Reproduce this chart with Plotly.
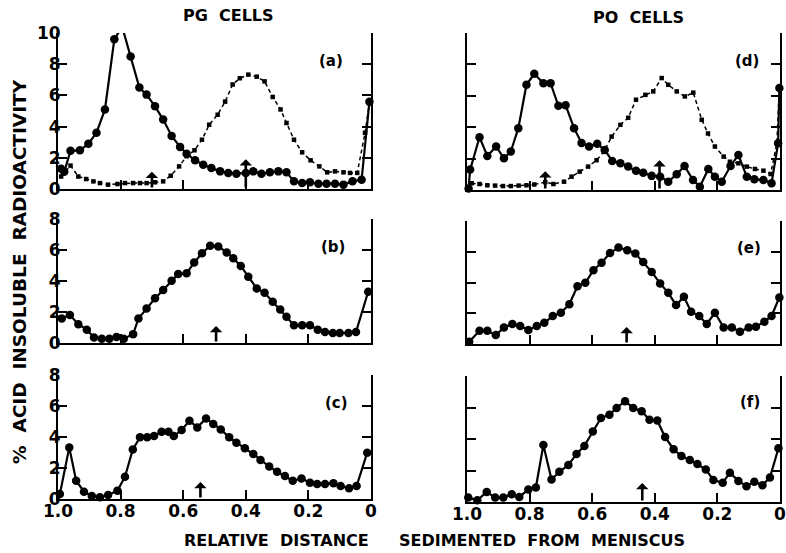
import plotly.graph_objects as go

# ---------------- data ----------------
a_solid_x = [0.99, 0.98, 0.96, 0.93, 0.903, 0.877, 0.85, 0.82, 0.795, 0.768, 0.74, 0.717, 0.69, 0.664,
             0.637, 0.61, 0.589, 0.562, 0.536, 0.51, 0.482, 0.456, 0.43, 0.40, 0.376, 0.35, 0.323, 0.296,
             0.27, 0.246, 0.22, 0.195, 0.168, 0.142, 0.115, 0.088, 0.059, 0.03, 0.005]
a_solid_y = [1.3, 1.1, 2.45, 2.48, 2.9, 3.6, 5.1, 9.6, 10.4, 8.5, 6.5, 6.05, 5.3, 4.45,
             3.4, 2.7, 2.26, 1.84, 1.56, 1.35, 1.13, 1.03, 0.98, 1.03, 1.13, 0.98, 1.07, 1.13,
             1.07, 0.49, 0.38, 0.43, 0.34, 0.34, 0.34, 0.28, 0.49, 0.6, 5.6]
a_dash_x = [0.99, 0.96, 0.935, 0.91, 0.887, 0.866, 0.84, 0.81, 0.786, 0.76, 0.738, 0.717, 0.69, 0.664,
            0.64, 0.613, 0.589, 0.564, 0.54, 0.517, 0.49, 0.466, 0.442, 0.419, 0.392, 0.365, 0.34,
            0.314, 0.289, 0.27, 0.246, 0.22, 0.193, 0.165, 0.14, 0.115, 0.088, 0.067, 0.044, 0.019, 0.005]
a_dash_y = [0.8, 1.5, 0.8, 0.64, 0.49, 0.38, 0.28, 0.32, 0.38, 0.38, 0.38, 0.38, 0.43, 0.49,
            0.85, 1.45, 2.1, 2.48, 3.16, 4.12, 4.76, 5.6, 6.7, 7.1, 7.33, 7.2, 6.9,
            5.9, 5.1, 4.23, 3.16, 2.35, 1.84, 1.45, 1.07, 1.13, 1.07, 1.03, 1.03, 3.6, 5.5]

b_x = [0.988, 0.962, 0.935, 0.908, 0.885, 0.86, 0.836, 0.813, 0.79, 0.76, 0.743, 0.717, 0.69, 0.664,
       0.637, 0.616, 0.589, 0.565, 0.54, 0.514, 0.488, 0.461, 0.44, 0.416, 0.392, 0.365, 0.34, 0.314,
       0.29, 0.27, 0.246, 0.22, 0.195, 0.17, 0.147, 0.122, 0.1, 0.072, 0.048, 0.009]
b_y = [1.58, 1.8, 1.21, 0.86, 0.35, 0.28, 0.28, 0.39, 0.28, 0.56, 1.58, 2.23, 2.88, 3.42,
       4.02, 4.45, 4.5, 5.19, 5.79, 6.27, 6.23, 5.84, 5.47, 4.97, 4.28, 3.52, 3.24, 2.66,
       2.16, 1.69, 1.15, 1.15, 1.15, 0.86, 0.71, 0.65, 0.65, 0.65, 0.71, 3.31]

c_x = [0.994, 0.964, 0.942, 0.917, 0.892, 0.866, 0.84, 0.81, 0.786, 0.761, 0.738, 0.715, 0.693, 0.669,
       0.647, 0.63, 0.605, 0.58, 0.555, 0.527, 0.504, 0.48, 0.453, 0.43, 0.403, 0.376, 0.353, 0.325,
       0.3, 0.275, 0.25, 0.222, 0.195, 0.172, 0.147, 0.12, 0.097, 0.07, 0.046, 0.012]
c_y = [0.32, 3.33, 1.18, 0.47, 0.19, 0.11, 0.26, 0.54, 1.44, 3.2, 3.98, 3.98, 4.06, 4.34,
       4.34, 4.06, 4.45, 5.05, 4.62, 5.2, 4.84, 4.49, 3.98, 3.63, 3.27, 2.9, 2.52, 2.09,
       1.76, 1.48, 1.18, 1.33, 1.05, 0.97, 0.97, 1.01, 0.84, 0.69, 0.84, 2.99]

d_solid_x = [0.995, 0.99, 0.96, 0.935, 0.907, 0.882, 0.86, 0.836, 0.81, 0.785, 0.756, 0.733, 0.708,
             0.685, 0.658, 0.634, 0.61, 0.584, 0.56, 0.536, 0.51, 0.485, 0.46, 0.437, 0.41, 0.383,
             0.357, 0.33, 0.305, 0.278, 0.256, 0.229, 0.208, 0.186, 0.158, 0.133, 0.106, 0.082,
             0.053, 0.027, 0.006, 0.002]
d_solid_y = [0.1, 1.3, 3.36, 2.17, 2.77, 2.02, 2.45, 3.94, 6.7, 7.4, 6.8, 6.8, 5.36,
             5.4, 3.94, 3.0, 2.77, 2.94, 2.55, 1.85, 1.7, 1.49, 1.23, 1.1, 0.9, 0.85,
             0.53, 1.0, 1.53, 0.64, 0.21, 1.34, 0.85, 0.53, 1.53, 2.23, 0.85, 0.68,
             0.64, 0.43, 2.98, 6.5]
d_dash_x = [0.985, 0.96, 0.935, 0.91, 0.885, 0.86, 0.835, 0.81, 0.785, 0.75, 0.724, 0.69, 0.666,
            0.64, 0.613, 0.586, 0.562, 0.538, 0.51, 0.485, 0.46, 0.43, 0.405, 0.378, 0.357, 0.33,
            0.304, 0.277, 0.25, 0.23, 0.208, 0.18, 0.16, 0.133, 0.106, 0.08, 0.053, 0.03, 0.01, 0.002]
d_dash_y = [0.43, 0.38, 0.3, 0.28, 0.25, 0.25, 0.28, 0.3, 0.35, 0.5, 0.38, 0.53, 0.85,
            1.17, 1.49, 1.9, 2.45, 3.4, 4.15, 4.6, 5.75, 6.06, 6.28, 7.13, 6.7, 6.28,
            5.96, 6.2, 4.47, 3.6, 2.77, 2.13, 1.8, 1.7, 1.49, 1.34, 1.23, 1.02, 2.98, 6.5]

e_x = [0.993, 0.96, 0.935, 0.908, 0.882, 0.855, 0.83, 0.804, 0.777, 0.753, 0.726, 0.7, 0.673,
       0.647, 0.622, 0.596, 0.57, 0.543, 0.516, 0.488, 0.462, 0.437, 0.41, 0.383, 0.357, 0.332,
       0.307, 0.284, 0.258, 0.234, 0.208, 0.18, 0.154, 0.128, 0.1, 0.077, 0.05, 0.027, 0.002]
e_y = [0.15, 0.86, 0.86, 0.58, 1.08, 1.3, 1.17, 0.91, 1.17, 1.38, 1.82, 2.03, 2.59,
       3.76, 3.98, 4.8, 5.28, 5.92, 6.27, 6.1, 5.88, 5.34, 4.69, 3.94, 3.33, 2.53,
       3.07, 2.1, 1.82, 1.3, 2.03, 1.08, 1.08, 0.8, 1.08, 1.12, 1.45, 1.82, 3.03]

f_x = [0.996, 0.967, 0.937, 0.91, 0.884, 0.857, 0.833, 0.804, 0.78, 0.756, 0.73, 0.705, 0.676,
       0.65, 0.625, 0.598, 0.572, 0.545, 0.522, 0.495, 0.469, 0.442, 0.417, 0.392, 0.367, 0.34,
       0.315, 0.288, 0.264, 0.237, 0.213, 0.183, 0.16, 0.133, 0.107, 0.082, 0.056, 0.032, 0.005]
f_y = [0.28, 0.11, 0.64, 0.28, 0.28, 0.49, 0.32, 0.79, 0.92, 3.62, 1.43, 1.92, 2.35,
       3.05, 3.56, 4.48, 5.33, 5.54, 5.97, 6.4, 5.97, 5.76, 5.22, 5.18, 4.12, 3.35,
       2.92, 2.67, 2.41, 2.07, 1.39, 1.22, 1.86, 1.34, 1.0, 1.28, 1.07, 1.56, 3.41]

# arrows: (panel, x position, arrow tip height)
arrow_panel = ["a", "a", "b", "c", "d", "d", "e", "f"]
arrow_x = [0.70, 0.40, 0.495, 0.545, 0.75, 0.385, 0.49, 0.44]
arrow_tip = [1.1, 1.9, 1.1, 1.1, 1.2, 1.9, 1.1, 1.2]

panel_labels = ["(a)", "(b)", "(c)", "(d)", "(e)", "(f)"]
x_tick_vals = [1.0, 0.8, 0.6, 0.4, 0.2, 0.0]
x_tick_text = ["1.0", "0.8", "0.6", "0.4", "0.2", "0"]

# ---------------- layout helpers ----------------
W, H = 786, 553
FONT = "DejaVu Sans"

def px_x(p):
    return p / W

def px_y(p):
    return 1 - p / H

panels = {
    # name: (axis index, left px, right px, top px, bottom px, ymax)
    "a": (1, 58, 371, 33, 189, 10),
    "b": (2, 58, 371, 219, 343, 8),
    "c": (3, 58, 371, 375, 499, 8),
    "d": (4, 467, 780, 33, 190, 10),
    "e": (5, 467, 780, 221, 344, 8),
    "f": (6, 467, 780, 376, 502, 8),
}

fig = go.Figure()

def add_solid(name, xs, ys):
    i = panels[name][0]
    fig.add_trace(go.Scatter(
        x=xs, y=ys, xaxis=f"x{i}", yaxis=f"y{i}", mode="lines+markers",
        line=dict(color="black", width=2.2),
        marker=dict(symbol="circle", size=8.5, color="black"),
        cliponaxis=False, showlegend=False))

def add_dash(name, xs, ys):
    i = panels[name][0]
    fig.add_trace(go.Scatter(
        x=xs, y=ys, xaxis=f"x{i}", yaxis=f"y{i}", mode="lines+markers",
        line=dict(color="black", width=1.5, dash="4px,3px"),
        marker=dict(symbol="square", size=4.5, color="black"),
        cliponaxis=False, showlegend=False))

add_solid("a", a_solid_x, a_solid_y)
add_dash("a", a_dash_x, a_dash_y)
add_solid("b", b_x, b_y)
add_solid("c", c_x, c_y)
add_solid("d", d_solid_x, d_solid_y)
add_dash("d", d_dash_x, d_dash_y)
add_solid("e", e_x, e_y)
add_solid("f", f_x, f_y)

layout = dict(
    template="none",
    width=W, height=H, margin=dict(l=0, r=0, t=0, b=0, autoexpand=False),
    paper_bgcolor="white", plot_bgcolor="white",
    font=dict(family=FONT, color="black", size=15),
    showlegend=False,
)

annotations = []
for name, (i, l, r, t, b, ymax) in panels.items():
    bottom_row = name in ("c", "f")
    left_col = name in ("a", "b", "c")
    layout[f"xaxis{i}"] = dict(
        domain=[px_x(l), px_x(r)], range=[1.0, 0.0], anchor=f"y{i}", automargin=False,
        showgrid=False, zeroline=False, showline=True, linecolor="black", linewidth=2,
        ticks="inside", ticklen=9, tickwidth=2, tickcolor="black",
        tickvals=x_tick_vals, ticktext=x_tick_text, showticklabels=bottom_row,
        ticklabeloverflow="allow", ticklabelstandoff=-4,
        tickfont=dict(family=FONT, size=17, weight="bold"),
    )
    layout[f"yaxis{i}"] = dict(
        domain=[px_y(b), px_y(t)], range=[0, ymax], anchor=f"x{i}", automargin=False,
        showgrid=False, zeroline=False, showline=True, linecolor="black", linewidth=2,
        mirror="ticks", ticks="inside", ticklen=9, tickwidth=2, tickcolor="black",
        tickvals=list(range(0, ymax + 1, 2)), showticklabels=left_col,
        ticklabelstandoff=-8, ticklabeloverflow="allow",
        tickfont=dict(family=FONT, size=17, weight="bold"),
    )

def note(text, x, y, size, angle=0):
    return dict(text=text, x=px_x(x), y=px_y(y), xref="paper", yref="paper",
                showarrow=False, xanchor="center", yanchor="middle", textangle=angle,
                font=dict(family=FONT, size=size, weight="bold"))

label_pos = {"a": (331, 61), "b": (333, 247), "c": (336, 403),
             "d": (747, 61), "e": (749, 248), "f": (750, 402)}
for lab, name in zip(panel_labels, ["a", "b", "c", "d", "e", "f"]):
    x, y = label_pos[name]
    annotations.append(note(lab, x, y, 15))

for pn, ax_x, tip in zip(arrow_panel, arrow_x, arrow_tip):
    i = panels[pn][0]
    annotations.append(dict(x=ax_x, y=tip, ax=ax_x, ay=0, xref=f"x{i}", yref=f"y{i}",
                            axref=f"x{i}", ayref=f"y{i}", showarrow=True, text="",
                            arrowhead=1, arrowsize=0.8, arrowwidth=2.6, arrowcolor="black"))

# titles
annotations += [
    note("PG  CELLS", 228, 16, 16),
    note("PO  CELLS", 638, 17, 16),
    note("RELATIVE  DISTANCE", 276, 540, 16),
    note("SEDIMENTED  FROM  MENISCUS", 542, 540, 16),
    note("%  ACID  INSOLUBLE  RADIOACTIVITY", 20, 272, 18.5, -90),
]
layout["annotations"] = annotations
fig.update_layout(**layout)

fig.write_html("out.html")
